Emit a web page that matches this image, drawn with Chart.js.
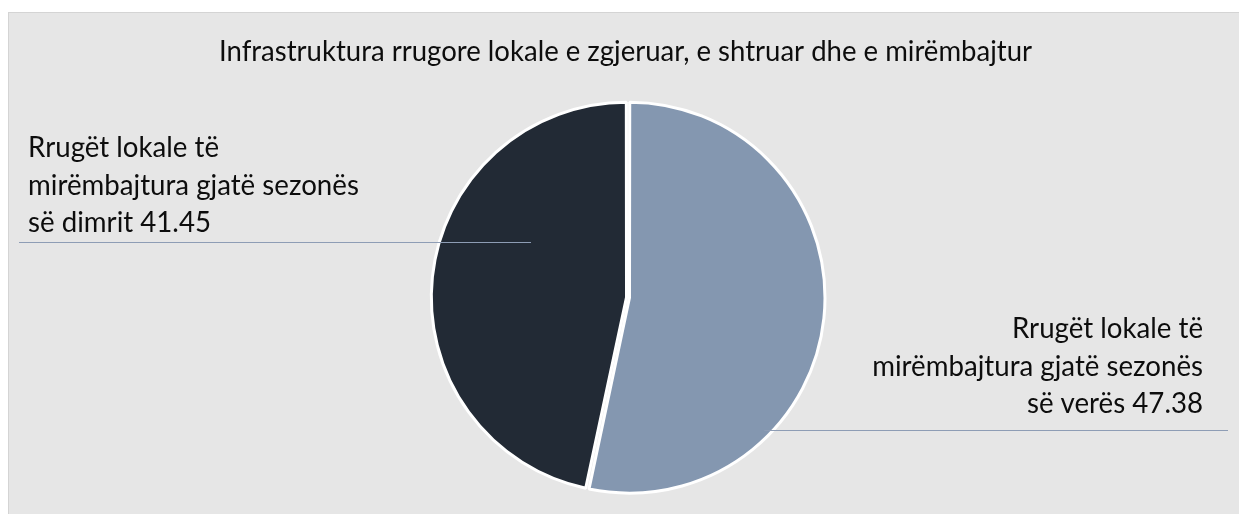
<!DOCTYPE html>
<html>
<head>
<meta charset="utf-8">
<script src="https://cdn.jsdelivr.net/npm/chart.js@4/dist/chart.umd.min.js"></script>
<style>
  html, body { margin: 0; padding: 0; background: #ffffff; }
  #wrap { position: absolute; left: 0; top: 0; width: 1239px; height: 514px; }
</style>
</head>
<body>
<div id="wrap"><canvas id="c" width="1239" height="514"></canvas></div>
<script>
const chartTitle = "Infrastruktura rrugore lokale e zgjeruar, e shtruar dhe e mirëmbajtur";
const categories = [
  "Rrugët lokale të mirëmbajtura gjatë sezonës së verës",
  "Rrugët lokale të mirëmbajtura gjatë sezonës së dimrit"
];
const values = [47.38, 41.45];
const labelLines = [
  ["Rrugët lokale të", "mirëmbajtura gjatë sezonës", "së verës"],
  ["Rrugët lokale të", "mirëmbajtura gjatë sezonës", "së dimrit"]
];
const sliceColors = ["#8497b0", "#222a35"];

const FONT = "Lato, 'Open Sans', sans-serif";
const SX = 0.93; // slight horizontal condensing to mimic a narrow face

function fitSize(ctx, text, targetW) {
  ctx.font = "100px " + FONT;
  return 100 * targetW / (ctx.measureText(text).width * SX);
}

function drawText(ctx, t, x, y) {
  ctx.save();
  ctx.translate(x, y);
  ctx.scale(SX, 1);
  ctx.fillText(t, 0, 0);
  ctx.restore();
}

const decor = {
  id: 'decor',
  beforeDraw(chart) {
    const ctx = chart.ctx;
    ctx.save();
    ctx.fillStyle = '#e6e6e6';
    ctx.fillRect(8, 12, 1240, 510);
    ctx.strokeStyle = '#d4d4d4';
    ctx.lineWidth = 1;
    ctx.strokeRect(8.5, 12.5, 1240, 510);
    ctx.restore();
  },
  afterDraw(chart) {
    const ctx = chart.ctx;
    const arcs = chart.getDatasetMeta(0).data;
    const a0 = arcs[0];
    const cx = a0.x, cy = a0.y, r = a0.outerRadius;
    ctx.save();
    // title
    const ts = fitSize(ctx, chartTitle, 813);
    ctx.font = ts.toFixed(2) + "px " + FONT;
    ctx.fillStyle = '#0d0d0d';
    ctx.textAlign = 'center';
    ctx.textBaseline = 'alphabetic';
    drawText(ctx, chartTitle, 625.5, 61);

    const ls = fitSize(ctx, labelLines[0][1], 331);
    ctx.font = ls.toFixed(2) + "px " + FONT;
    const lh = 37.5;

    // right label (summer, slice 0)
    const rl = labelLines[0].slice();
    rl[2] = rl[2] + " " + values[0].toFixed(2);
    ctx.textAlign = 'right';
    rl.forEach((t, i) => drawText(ctx, t, 1203, 338 + i * lh));
    // left label (winter, slice 1)
    const ll = labelLines[1].slice();
    ll[2] = ll[2] + " " + values[1].toFixed(2);
    ctx.textAlign = 'left';
    ll.forEach((t, i) => drawText(ctx, t, 28, 157 + i * lh));

    // leader lines
    ctx.strokeStyle = '#8e9db5';
    ctx.lineWidth = 1;
    ctx.beginPath();
    const ly = Math.round(cy - 0.287 * r) + 0.5;
    ctx.moveTo(19, ly);
    ctx.lineTo(cx - 0.5 * r, ly);
    const ry = Math.round(cy + 0.682 * r) + 0.5;
    const rx = cx + Math.sqrt(Math.max(r * r - (ry - cy) * (ry - cy), 0)) - 5;
    ctx.moveTo(rx, ry);
    ctx.lineTo(1228, ry);
    ctx.stroke();
    ctx.restore();
  }
};

new Chart(document.getElementById('c'), {
  type: 'pie',
  data: {
    labels: categories,
    datasets: [{
      data: values,
      backgroundColor: sliceColors,
      borderColor: '#ffffff',
      borderWidth: 3,
      offset: 6,
      hoverOffset: 6
    }]
  },
  options: {
    responsive: false,
    animation: false,
    radius: 194,
    layout: { padding: { left: 17, top: 81, right: 0, bottom: 0 } },
    plugins: {
      legend: { display: false },
      tooltip: { enabled: false },
      title: { display: false }
    }
  },
  plugins: [decor]
});
</script>
</body>
</html>
